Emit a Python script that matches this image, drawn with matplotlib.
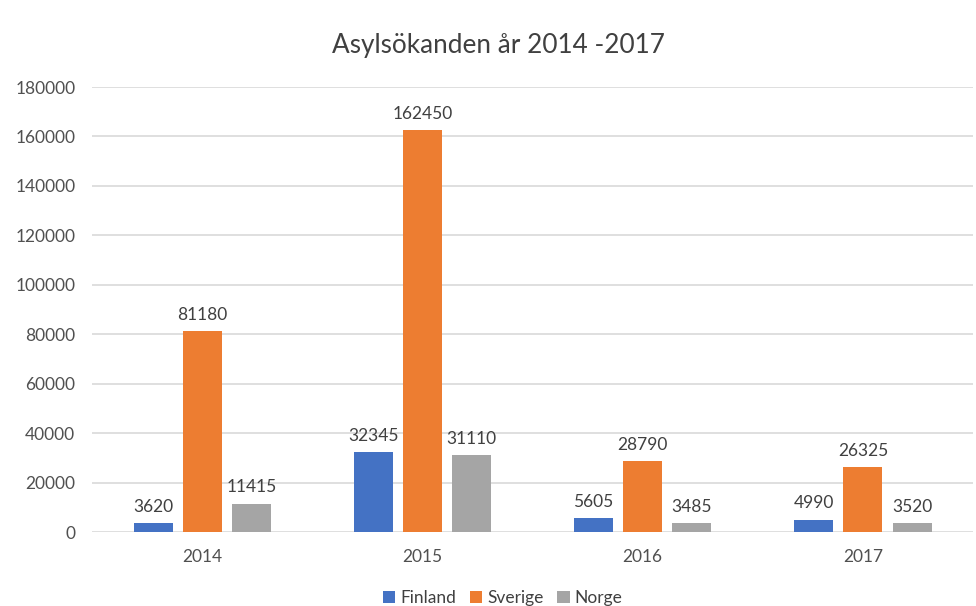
import matplotlib
matplotlib.use("Agg")
import matplotlib.pyplot as plt
import numpy as np

years = ["2014", "2015", "2016", "2017"]
series_names = ["Finland", "Sverige", "Norge"]
finland = [3620, 32345, 5605, 4990]
sverige = [81180, 162450, 28790, 26325]
norge = [11415, 31110, 3485, 3520]
colors = ["#4472C4", "#ED7D31", "#A5A5A5"]
yticks = [0, 20000, 40000, 60000, 80000, 100000, 120000, 140000, 160000, 180000]

plt.rcParams['font.family'] = ['Lato', 'DejaVu Sans']

fig = plt.figure(figsize=(9.76, 6.06), dpi=100)
ax = fig.add_axes([0.0943, 0.1221, 0.9027, 0.7343])

x = np.arange(len(years))
width = 0.177
step = 0.223
for i, (name, vals, c) in enumerate(zip(series_names, [finland, sverige, norge], colors)):
    pos = x + (i - 1) * step
    ax.bar(pos, vals, width=width, color=c, label=name, zorder=3)
    for xx, v in zip(pos, vals):
        ax.annotate(str(v), (xx, v), xytext=(0, 6), textcoords="offset points",
                    ha="center", va="bottom", fontsize=12.5, color="#404040")

ax.set_xlim(-0.5, len(years) - 0.5)
ax.set_ylim(0, 180000)
ax.set_yticks(yticks)
ax.set_yticklabels([str(t) for t in yticks])
ax.set_xticks(x)
ax.set_xticklabels(years)
ax.tick_params(axis='both', length=0, labelsize=12.5, colors="#505050")
ax.tick_params(axis='y', pad=12)
ax.tick_params(axis='x', pad=12)
ax.grid(axis='y', color="#D9D9D9", linewidth=1.2, zorder=0)
for s in ax.spines.values():
    s.set_visible(False)

fig.text(0.511, 1 - 45 / 606, "Asylsökanden år 2014 -2017", ha="center", va="center",
         fontsize=18.8, color="#404040")

fig.legend(loc="center", bbox_to_anchor=(0.515, 1 - 598 / 606), ncol=3, frameon=False,
           fontsize=12.5, handlelength=0.7, handleheight=0.7, handletextpad=0.3,
           columnspacing=0.8, labelcolor="#404040")

fig.savefig("out.png", dpi=100)
